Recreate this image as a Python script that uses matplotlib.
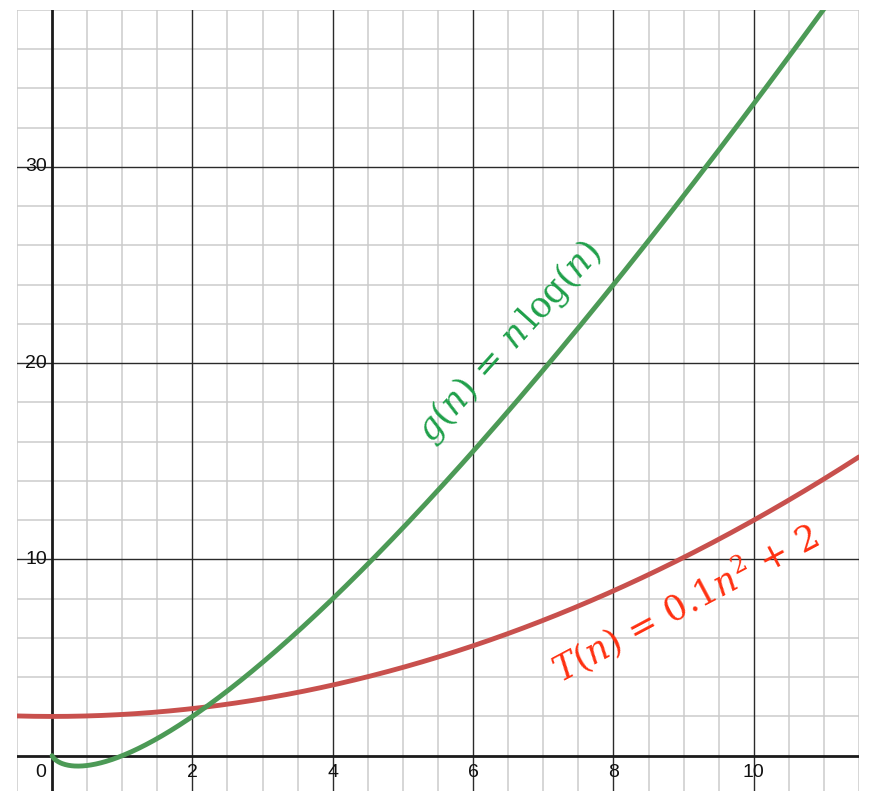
import numpy as np
import matplotlib
matplotlib.use("Agg")
import matplotlib.pyplot as plt

# --- data (functions shown in the chart) ---
t_coeffs = [0.1, 0.0, 2.0]          # T(n) = 0.1 n^2 + 2
g_log_base = 2                       # g(n) = n log(n)
x_ticks = [0, 2, 4, 6, 8, 10]
y_ticks = [10, 20, 30]
g_label = r"$g(n)\,=\,n\,\log(n)$"
t_label = r"$T(n)\,=\,0.1n^2\,+\,2$"

xmin, xmax = -0.5, 11.5
ymin, ymax = -1.8, 38.0

W, H = 869, 791
fig = plt.figure(figsize=(W / 100, H / 100), dpi=100)
ax = fig.add_axes([17 / W, 0, 842 / W, 781 / H])
ax.set_xlim(xmin, xmax)
ax.set_ylim(ymin, ymax)
for s in ax.spines.values():
    s.set_visible(False)
ax.set_xticks([])
ax.set_yticks([])

plt.rcParams['mathtext.fontset'] = 'dejavuserif'

# minor grid
for xv in np.arange(-0.5, 11.51, 0.5):
    if abs(xv % 2) > 1e-9:
        ax.axvline(xv, color='#cbcbcb', lw=1.1, zorder=1)
for yv in np.arange(0, 38.01, 2):
    if abs(yv % 10) > 1e-9:
        ax.axhline(yv, color='#cbcbcb', lw=1.1, zorder=1)
# major grid
for xv in x_ticks[1:]:
    ax.axvline(xv, color='#2a2a2a', lw=1.0, zorder=2)
for yv in y_ticks:
    ax.axhline(yv, color='#2a2a2a', lw=1.0, zorder=2)
# axes
ax.axvline(0, color='#1a1a1a', lw=2.0, zorder=3)
ax.axhline(0, color='#1a1a1a', lw=2.0, zorder=3)

# tick labels
font = dict(family='Liberation Sans', fontsize=14, color='#111111')
for xv in x_ticks:
    if xv == 0:
        ax.text(-0.08, -0.4, "0", ha='right', va='top', **font, zorder=5)
    else:
        ax.text(xv, -0.4, str(xv), ha='center', va='top', **font, zorder=5)
for yv in y_ticks:
    ax.text(-0.07, yv, str(yv), ha='right', va='center', **font, zorder=5)

# curves
nr = np.linspace(xmin, xmax, 600)
ax.plot(nr, np.polyval(t_coeffs, nr), color='#c8504d', lw=3.5, zorder=6,
        solid_capstyle='round')
ng = np.linspace(1e-6, 11.6, 800)
ax.plot(ng, ng * np.log(ng) / np.log(g_log_base), color='#4c9a56', lw=3.5,
        zorder=7, solid_capstyle='round')

# labels
ax.text(6.52, 21.1, g_label, color='#1fa04a', fontsize=25, rotation=48,
        ha='center', va='center', rotation_mode='anchor', zorder=8)
ax.text(9.02, 7.8, t_label, color='#ff3010', fontsize=25, rotation=28,
        ha='center', va='center', rotation_mode='anchor', zorder=8)

fig.savefig("out.png", dpi=100)
